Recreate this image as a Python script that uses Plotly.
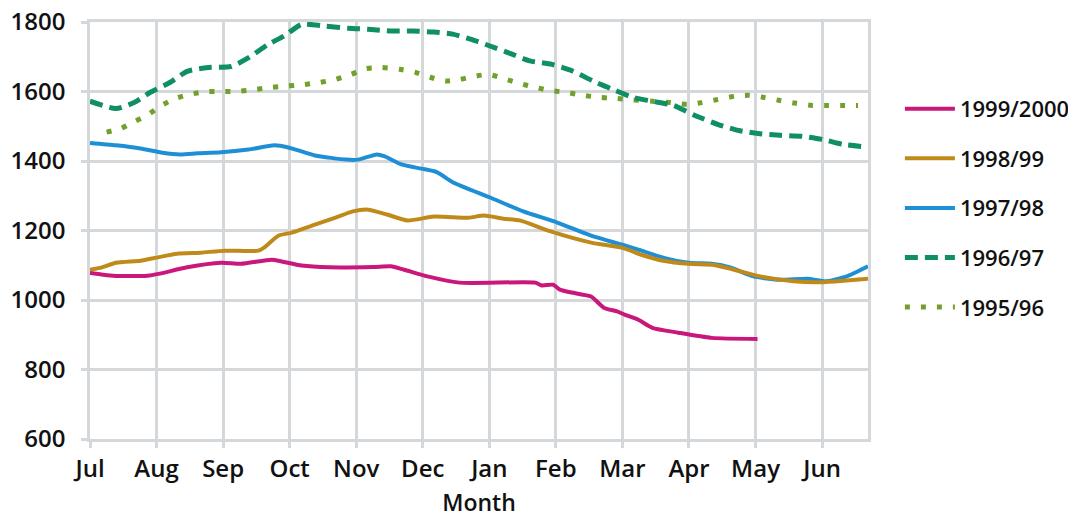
import plotly.graph_objects as go

months = ["Jul", "Aug", "Sep", "Oct", "Nov", "Dec", "Jan", "Feb", "Mar", "Apr", "May", "Jun"]

# x = months since start of July (0 = Jul, 11 = Jun)
x_9900 = [0.00, 0.35, 0.86, 1.05, 1.46, 1.97, 2.27, 2.73, 2.88, 3.18, 3.60, 4.26, 4.52, 4.72,
          5.07, 5.55, 6.69, 6.79, 6.96, 7.06, 7.33, 7.53, 7.72, 7.92, 8.03, 8.24, 8.45, 8.84,
          9.34, 10.03]
y_9900 = [1078, 1070, 1070, 1076, 1094, 1107, 1104, 1116, 1111, 1099, 1094, 1095, 1097, 1087,
          1068, 1050, 1050, 1042, 1044, 1030, 1018, 1010, 978, 967, 958, 943, 920, 906,
          891, 888]

x_9899 = [0.00, 0.17, 0.39, 0.76, 1.00, 1.31, 1.66, 2.02, 2.53, 2.61, 2.83, 3.03, 3.38, 3.69,
          3.95, 4.18, 4.46, 4.77, 5.17, 5.69, 5.92, 6.21, 6.46, 6.91, 7.53, 8.00, 8.32, 8.61,
          9.00, 9.38, 9.68, 10.07, 10.57, 10.97, 11.37, 11.69]
y_9899 = [1087, 1093, 1107, 1113, 1122, 1133, 1136, 1142, 1142, 1150, 1185, 1194, 1217, 1237,
          1255, 1260, 1246, 1229, 1240, 1237, 1243, 1234, 1229, 1198, 1165, 1150, 1128, 1113,
          1104, 1101, 1087, 1068, 1054, 1051, 1056, 1061]

x_9798 = [0.00, 0.39, 0.76, 1.09, 1.35, 1.62, 1.97, 2.38, 2.77, 2.98, 3.38, 3.85, 4.03, 4.31,
          4.42, 4.68, 4.98, 5.21, 5.45, 6.01, 6.51, 7.02, 7.53, 8.00, 8.24, 8.61, 9.00, 9.34,
          9.63, 9.97, 10.37, 10.78, 11.07, 11.37, 11.69]
y_9798 = [1452, 1445, 1436, 1424, 1419, 1422, 1425, 1433, 1445, 1439, 1416, 1404, 1404, 1419,
          1414, 1390, 1378, 1368, 1339, 1295, 1255, 1223, 1185, 1159, 1145, 1122, 1107, 1104,
          1093, 1068, 1058, 1061, 1054, 1068, 1097]

x_9697 = [0.00, 0.39, 0.67, 0.90, 1.20, 1.46, 1.78, 2.12, 2.39, 2.68, 2.92, 3.18, 3.54, 3.88,
          4.18, 4.54, 4.85, 5.17, 5.45, 5.73, 6.01, 6.31, 6.61, 6.94, 7.25, 7.56, 7.88, 8.16,
          8.45, 8.77, 9.09, 9.44, 9.74, 10.04, 10.37, 10.70, 11.01, 11.31, 11.69]
y_9697 = [1572, 1551, 1569, 1597, 1626, 1658, 1669, 1672, 1698, 1736, 1760, 1793, 1788, 1782,
          1779, 1774, 1774, 1771, 1765, 1750, 1731, 1710, 1688, 1678, 1659, 1630, 1604, 1583,
          1572, 1560, 1531, 1505, 1488, 1479, 1474, 1471, 1462, 1448, 1440]

x_9596 = [0.25, 0.47, 0.67, 0.86, 1.06, 1.28, 1.51, 1.75, 2.02, 2.24, 2.48, 2.73, 2.97, 3.22,
          3.45, 3.69, 3.92, 4.15, 4.38, 4.65, 4.89, 5.11, 5.34, 5.56, 5.76, 5.99, 6.22, 6.46,
          6.69, 6.91, 7.17, 7.41, 7.66, 7.91, 8.16, 8.45, 8.73, 8.97, 9.19, 9.43, 9.68, 9.90,
          10.13, 10.37, 10.61, 10.85, 11.09, 11.31, 11.54]
y_9596 = [1483, 1494, 1514, 1532, 1558, 1580, 1592, 1600, 1600, 1601, 1606, 1612, 1616, 1620,
          1626, 1635, 1649, 1666, 1669, 1664, 1655, 1641, 1630, 1635, 1643, 1649, 1637, 1623,
          1612, 1603, 1597, 1589, 1583, 1580, 1576, 1572, 1568, 1563, 1568, 1577, 1586, 1589,
          1583, 1574, 1566, 1560, 1560, 1560, 1560]

GRID = "#d5d8da"
FONT = "Open Sans, Arial, sans-serif"

fig = go.Figure()
# drawn back to front; legend rank puts the newest season first
series = [
    ("1995/96", x_9596, y_9596, "#72a12b", dict(width=5, dash="5px,11px"), 5),
    ("1996/97", x_9697, y_9697, "#0f8f62", dict(width=5, dash="13px,7px"), 4),
    ("1997/98", x_9798, y_9798, "#1e8fd5", dict(width=4), 3),
    ("1998/99", x_9899, y_9899, "#c08a1a", dict(width=4), 2),
    ("1999/2000", x_9900, y_9900, "#c9177b", dict(width=4), 1),
]
for name, xs, ys, color, line, rank in series:
    fig.add_trace(go.Scatter(x=xs, y=ys, name=name, mode="lines", legendgroup=name, legendrank=rank,
                             line=dict(color=color, shape="spline", smoothing=0.6, **line)))

# page body has an 8px margin: size the figure so it ends at the window edge
fig.update_layout(
    width=1068, height=510,
    margin=dict(l=82, r=208, t=14, b=79, autoexpand=False),
    paper_bgcolor="white", plot_bgcolor="white",
    font=dict(family=FONT, size=24, color="#111", weight=600),
    legend=dict(x=1.041, y=0.842, xanchor="left", yanchor="top",
                traceorder="grouped", tracegroupgap=18,
                font=dict(size=22), itemwidth=50),
    xaxis=dict(range=[0, 11.69], tickvals=list(range(12)), ticktext=months,
               showgrid=True, gridcolor=GRID, gridwidth=2.5,
               showline=True, mirror=True, linecolor=GRID, linewidth=2.5,
               ticks="outside", ticklen=6, tickcolor=GRID, tickwidth=2.5,
               zeroline=False, automargin=False, ticklabeloverflow="allow",
               title=dict(text="Month", standoff=13, font=dict(size=23))),
    yaxis=dict(range=[600, 1800], dtick=200,
               showgrid=True, gridcolor=GRID, gridwidth=3,
               showline=True, mirror=True, linecolor=GRID, linewidth=2.5,
               ticks="outside", ticklen=6, tickcolor=GRID, tickwidth=3,
               ticklabelstandoff=11, zeroline=False, automargin=False,
               ticklabeloverflow="allow"),
)

fig.write_html("out.html")
